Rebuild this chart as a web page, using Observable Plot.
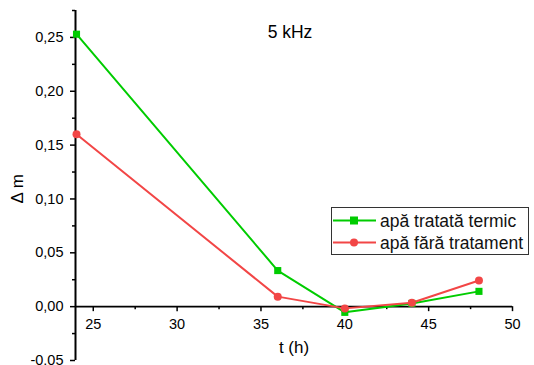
<!DOCTYPE html>
<html>
<head>
<meta charset="utf-8">
<script src="https://cdn.jsdelivr.net/npm/d3@7"></script>
<script src="https://cdn.jsdelivr.net/npm/@observablehq/plot@0.6"></script>
<style>
  html, body { margin: 0; padding: 0; background: #fff; }
  #wrap { position: relative; width: 534px; height: 365px; font-family: "Liberation Sans", Arial, sans-serif; }
  #legend { position: absolute; left: 331px; top: 207px; }
</style>
</head>
<body>
<div id="wrap"></div>
<script>
// Data
const hours = [24, 36, 40, 44, 48];
const seriesNames = ["apă tratată termic", "apă fără tratament"];
const treated = [0.253, 0.0335, -0.0053, 0.003, 0.0142];
const untreated = [0.160, 0.0093, -0.0016, 0.0036, 0.0243];
const seriesColors = ["#00cc00", "#f24646"];
const xMajorTicks = [25, 30, 35, 40, 45, 50];
const xMinorTicks = [27.5, 32.5, 37.5, 42.5, 47.5];
const yMajorTicks = [-0.05, 0, 0.05, 0.10, 0.15, 0.20, 0.25];
const yMinorTicks = [-0.025, 0.025, 0.075, 0.125, 0.175, 0.225, 0.275];
const title = "5 kHz";
const xLabel = "t (h)";
const yLabel = "Δ m";

const xDomain = [23.94, 50];
const yDomain = [-0.05, 0.275];

const rows = [];
hours.forEach((h, i) => {
  rows.push({t: h, v: treated[i], s: seriesNames[0]});
  rows.push({t: h, v: untreated[i], s: seriesNames[1]});
});
const rowsA = rows.filter(d => d.s === seriesNames[0]);
const rowsB = rows.filter(d => d.s === seriesNames[1]);

const H = 365, mT = 10, mB = 5;
const pxPerY = (H - mT - mB) / (yDomain[1] - yDomain[0]);
const majorLen = 5 / pxPerY, minorLen = 3 / pxPerY;
const fmt = d => d.toFixed(2).replace(".", ",");
const axisColor = "#000";

const chart = Plot.plot({
  width: 534,
  height: H,
  marginLeft: 75,
  marginRight: 22,
  marginTop: mT,
  marginBottom: mB,
  style: {fontFamily: "'Liberation Sans', Arial, sans-serif", background: "white", color: axisColor, overflow: "visible"},
  x: {domain: xDomain, axis: null},
  y: {domain: yDomain, axis: null},
  marks: [
    // x axis line at zero
    Plot.ruleY([0], {x1: xDomain[0], x2: xDomain[1], stroke: "black", strokeWidth: 1.6}),
    // y ticks
    Plot.axisY(yMajorTicks, {anchor: "left", tickSize: 5, tickPadding: 7, tickFormat: fmt, fontSize: 14.5, label: null, stroke: "black", strokeWidth: 1.5, fill: axisColor}),
    Plot.axisY(yMinorTicks, {anchor: "left", tickSize: 3, tickFormat: () => "", label: null, stroke: "black", strokeWidth: 1.5}),
    // y axis line
    Plot.ruleX([xDomain[0]], {y1: yDomain[0], y2: yDomain[1], stroke: "black", strokeWidth: 2}),
    // x ticks at y=0
    Plot.ruleX(xMajorTicks, {x: d => d, y1: 0, y2: -majorLen, stroke: "black", strokeWidth: 1.5}),
    Plot.ruleX(xMinorTicks, {x: d => d, y1: 0, y2: -minorLen, stroke: "black", strokeWidth: 1.5}),
    Plot.text(xMajorTicks, {x: d => d, y: 0, dy: 18, text: d => String(d), fontSize: 14.5, fill: axisColor}),
    // axis labels + title
    Plot.text([xLabel], {frameAnchor: "bottom", dy: -8, fontSize: 17, fill: axisColor}),
    Plot.text([yLabel], {frameAnchor: "left", dx: -58, dy: 18, rotate: -90, fontSize: 17, fill: axisColor}),
    Plot.text([title], {frameAnchor: "top", dx: -4, dy: 15, fontSize: 17.5, fill: axisColor}),
    // series
    Plot.line(rowsA, {x: "t", y: "v", stroke: seriesColors[0], strokeWidth: 2}),
    Plot.line(rowsB, {x: "t", y: "v", stroke: seriesColors[1], strokeWidth: 2}),
    Plot.dot(rowsA, {x: "t", y: "v", symbol: "square", r: 4, fill: seriesColors[0]}),
    Plot.dot(rowsB, {x: "t", y: "v", symbol: "circle", r: 4, fill: seriesColors[1]})
  ]
});
document.getElementById("wrap").appendChild(chart);

// Legend overlay
const lw = 198, lh = 48;
const leg = d3.select("#wrap").append("svg").attr("id", "legend")
  .attr("width", lw).attr("height", lh);
leg.append("rect").attr("x", 0.5).attr("y", 0.5).attr("width", lw - 1).attr("height", lh - 1)
  .attr("fill", "white").attr("stroke", "#333").attr("stroke-width", 1);
seriesNames.forEach((name, i) => {
  const cy = 13.5 + i * 22;
  const g = leg.append("g");
  g.append("line").attr("x1", 2).attr("x2", 45).attr("y1", cy).attr("y2", cy)
    .attr("stroke", seriesColors[i]).attr("stroke-width", 2);
  if (i === 0) {
    g.append("rect").attr("x", 23 - 4).attr("y", cy - 4).attr("width", 8).attr("height", 8).attr("fill", seriesColors[i]);
  } else {
    g.append("circle").attr("cx", 23).attr("cy", cy).attr("r", 4).attr("fill", seriesColors[i]);
  }
  g.append("text").attr("x", 49).attr("y", cy).attr("dy", "0.35em")
    .attr("font-size", 17.5).attr("fill", "#111")
    .attr("font-family", "'Liberation Sans', Arial, sans-serif").text(name);
});
</script>
</body>
</html>
